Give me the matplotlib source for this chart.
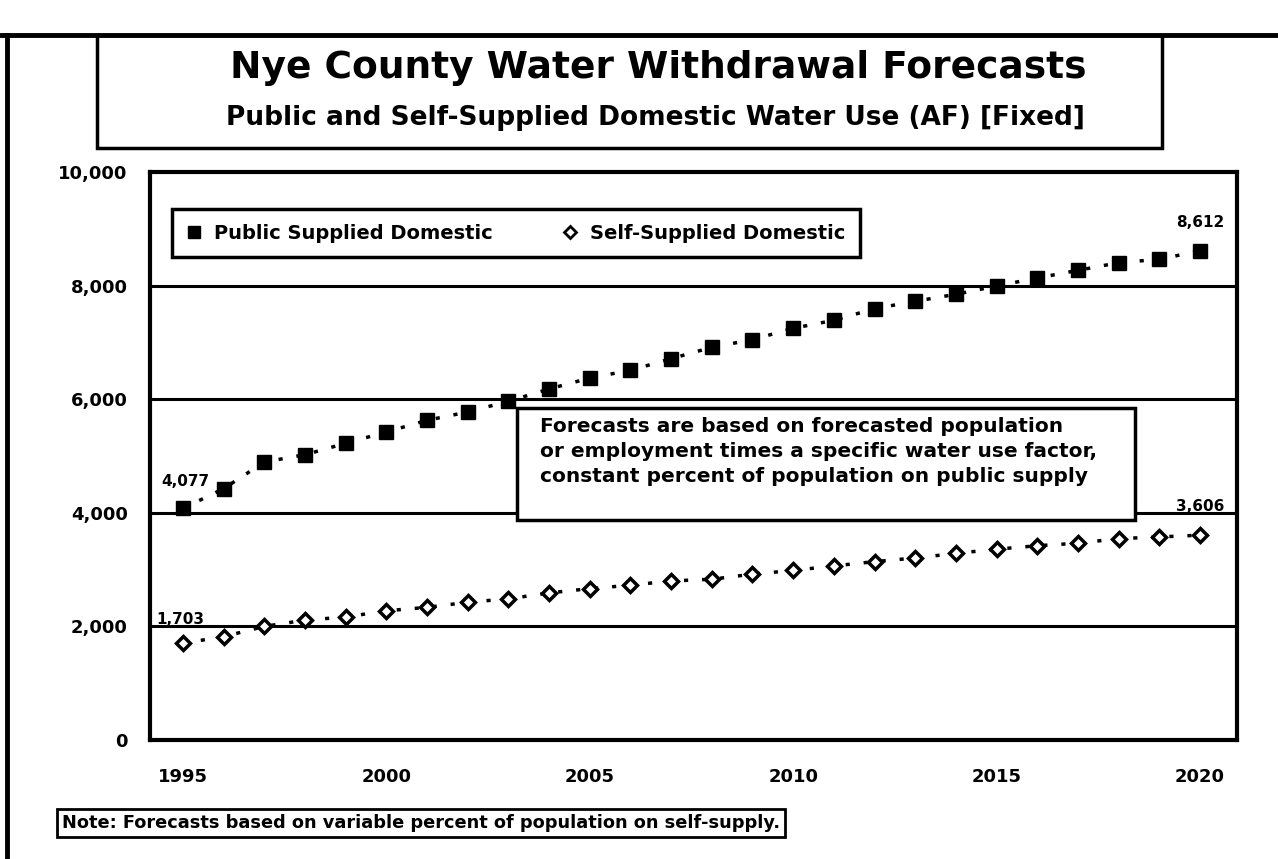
import matplotlib
matplotlib.use("Agg")
import matplotlib.pyplot as plt
from matplotlib.lines import Line2D
from matplotlib.patches import Rectangle

years = list(range(1995, 2021))
public_supplied = [4077, 4425, 4894, 5023, 5224, 5423, 5629, 5775, 5963, 6180,
                   6373, 6509, 6713, 6914, 7048, 7248, 7389, 7594, 7724, 7847,
                   7993, 8134, 8269, 8403, 8463, 8612]
self_supplied = [1703, 1820, 2000, 2110, 2165, 2275, 2335, 2425, 2485, 2590,
                 2665, 2725, 2800, 2830, 2920, 2985, 3065, 3140, 3205, 3285,
                 3360, 3420, 3465, 3545, 3575, 3606]
y_ticks = [0, 2000, 4000, 6000, 8000, 10000]
y_tick_labels = ["0", "2,000", "4,000", "6,000", "8,000", "10,000"]
x_ticks = [1995, 2000, 2005, 2010, 2015, 2020]
x_tick_labels = ["1995", "2000", "2005", "2010", "2015", "2020"]

title = "Nye County Water Withdrawal Forecasts"
subtitle = "Public and Self-Supplied Domestic Water Use (AF) [Fixed]"
series_names = ["Public Supplied Domestic", "Self-Supplied Domestic"]
note_box = ("Forecasts are based on forecasted population\n"
            "or employment times a specific water use factor,\n"
            "constant percent of population on public supply")
footnote = "Note: Forecasts based on variable percent of population on self-supply."

plt.rcParams['font.family'] = ['DejaVu Sans']

W, H = 1278, 859
fig = plt.figure(figsize=(W / 100, H / 100), dpi=100)
fig.patch.set_facecolor("white")

def fx(px):
    return px / W

def fy(py):
    return 1 - py / H

# outer frame lines
fig.add_artist(Line2D([0, 1], [fy(35), fy(35)], color="black", lw=3.5, transform=fig.transFigure))
fig.add_artist(Line2D([fx(7), fx(7)], [fy(35), 0], color="black", lw=3.5, transform=fig.transFigure))

# title box
fig.add_artist(Rectangle((fx(97), fy(148)), fx(1162) - fx(97), fy(35) - fy(148),
                         fill=False, edgecolor="black", lw=2.5, transform=fig.transFigure))
fig.text(fx(658), fy(68), title, ha="center", va="center", fontsize=27, fontweight="bold")
fig.text(fx(655), fy(118), subtitle, ha="center", va="center", fontsize=19, fontweight="bold")

# axes
ax = fig.add_axes([fx(150), fy(740), fx(1237) - fx(150), fy(172) - fy(740)])
ax.set_xlim(1994.19, 2020.91)
ax.set_ylim(0, 10000)
for s in ax.spines.values():
    s.set_linewidth(3)
    s.set_color("black")

for yv in y_ticks[1:-1]:
    ax.axhline(yv, color="black", lw=2.2, zorder=1)

ax.plot(years, public_supplied, color="black", lw=2.5, ls=(0, (1.2, 4)),
        marker="s", markersize=10, markerfacecolor="black", markeredgecolor="black", zorder=3)
ax.plot(years, self_supplied, color="black", lw=2.5, ls=(0, (1.2, 4)),
        marker="D", markersize=7, markerfacecolor="white", markeredgecolor="black",
        markeredgewidth=2.5, zorder=3)

ax.set_yticks(y_ticks)
ax.set_yticklabels(y_tick_labels, fontsize=13, fontweight="bold")
ax.set_xticks(x_ticks)
ax.set_xticklabels(x_tick_labels, fontsize=13, fontweight="bold")
ax.tick_params(axis="both", length=0)
ax.tick_params(axis="y", pad=16)
ax.tick_params(axis="x", pad=20)

# end labels
lab_kw = dict(fontsize=11, fontweight="bold", textcoords="offset points")
ax.annotate(f"{public_supplied[0]:,}", (years[0], public_supplied[0]), xytext=(2, 14), ha="center", va="bottom", **lab_kw)
ax.annotate(f"{self_supplied[0]:,}", (years[0], self_supplied[0]), xytext=(-2, 12), ha="center", va="bottom", **lab_kw)
ax.annotate(f"{public_supplied[-1]:,}", (years[-1], public_supplied[-1]), xytext=(0, 15), ha="center", va="bottom", **lab_kw)
ax.annotate(f"{self_supplied[-1]:,}", (years[-1], self_supplied[-1]), xytext=(0, 15), ha="center", va="bottom", **lab_kw)

# legend
handles = [Line2D([], [], ls="none", marker="s", markersize=9, color="black"),
           Line2D([], [], ls="none", marker="D", markersize=6, markerfacecolor="white",
                  markeredgecolor="black", markeredgewidth=2)]
leg = ax.legend(handles, series_names, loc="upper left", bbox_to_anchor=(0.0202, 0.935),
                borderaxespad=0, ncol=2, frameon=True, fancybox=False, handlelength=0.8,
                handletextpad=0.6, columnspacing=3.6, borderpad=0.75, framealpha=1,
                prop=dict(size=14, weight="bold"))
leg.get_frame().set_edgecolor("black")
leg.get_frame().set_linewidth(2.5)

# annotation box
ax.add_patch(Rectangle((0.3376, 0.387), 0.906 - 0.3376, 0.5845 - 0.387, transform=ax.transAxes,
                       facecolor="white", edgecolor="black", lw=2.5, zorder=5))
ax.text(0.3587, 0.568, note_box, transform=ax.transAxes, ha="left", va="top",
        fontsize=14.5, fontweight="bold", linespacing=1.38, zorder=6)

# footnote
fig.text(fx(62), fy(823), footnote, ha="left", va="center", fontsize=12.8, fontweight="bold",
         bbox=dict(boxstyle="square,pad=0.3", facecolor="white", edgecolor="black", lw=2))

fig.savefig("out.png", dpi=100)
